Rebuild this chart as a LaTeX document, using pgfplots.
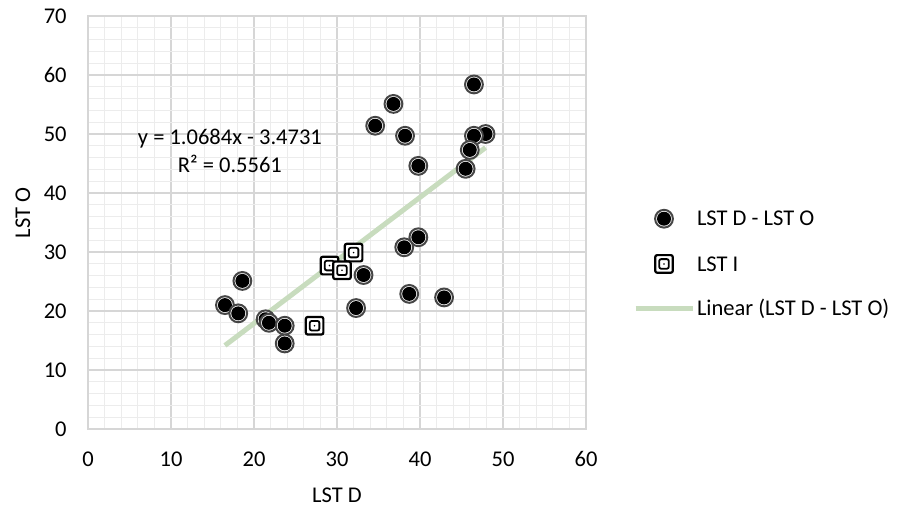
\documentclass[border=0pt]{standalone}
\usepackage{fontspec}
\setmainfont{Carlito}
\usepackage{pgfplots}
\pgfplotsset{compat=1.18}
\definecolor{gridmajor}{RGB}{214,214,214}
\definecolor{gridminor}{RGB}{236,236,236}
\definecolor{ringgray}{RGB}{70,70,70}
\definecolor{trendcol}{RGB}{200,220,190}
\pgfdeclareplotmark{ringdot}{%
  \pgfsetlinewidth{1bp}\pgfsetstrokecolor{ringgray}\pgfsetfillcolor{white}%
  \pgfpathcircle{\pgfpointorigin}{4.45bp}\pgfusepath{fill,stroke}%
  \pgfsetfillcolor{black}%
  \pgfpathcircle{\pgfpointorigin}{3.5bp}\pgfusepath{fill}%
}
\pgfdeclareplotmark{dblsquare}{%
  \pgfsetlinewidth{1.1bp}\pgfsetstrokecolor{black}\pgfsetfillcolor{white}%
  \pgfsetcornersarced{\pgfpoint{1bp}{1bp}}%
  \pgfpathrectanglecorners{\pgfpoint{-4.4bp}{-4.4bp}}{\pgfpoint{4.4bp}{4.4bp}}\pgfusepath{fill,stroke}%
  \pgfsetlinewidth{0.9bp}%
  \pgfpathrectanglecorners{\pgfpoint{-2.4bp}{-2.4bp}}{\pgfpoint{2.4bp}{2.4bp}}\pgfusepath{stroke}%
  \pgfsetcornersarced{\pgfpointorigin}%
  \pgfsetfillcolor{black}\pgfpathcircle{\pgfpointorigin}{0.45bp}\pgfusepath{fill}%
}
\newcommand{\chartfont}{\fontsize{11.3}{14}\selectfont}
\begin{document}
\begin{tikzpicture}
\useasboundingbox (0,0) rectangle (450bp,253.5bp);
\begin{axis}[
  at={(44bp,39bp)}, anchor=south west,
  scale only axis, width=249bp, height=206.5bp,
  xmin=0, xmax=60, ymin=0, ymax=70,
  xtick={0,10,...,60}, ytick={0,10,...,70},
  minor x tick num=4, minor y tick num=4,
  grid=both,
  major grid style={draw=gridmajor, line width=0.65bp},
  minor grid style={draw=gridminor, line width=0.5bp},
  axis line style={draw=gridmajor, line width=0.65bp},
  major tick length=0pt, minor tick length=0pt,
  tick style={draw=none},
  /pgf/number format/assume math mode=true,
  tick label style={font=\chartfont},
  xticklabel style={anchor=center, yshift=-15bp},
  yticklabel style={anchor=east, inner sep=0pt, xshift=-10.5bp},
  xlabel={LST D}, ylabel={LST O},
  label style={font=\chartfont},
  xlabel style={at={(axis description cs:0.5,-0.1598)}, anchor=center},
  ylabel style={at={(axis description cs:-0.1305,0.523)}, anchor=center},
  legend cell align=left,
  legend style={at={(axis description cs:1.0944,0.4019)}, anchor=west,
    draw=none, fill=none, inner sep=0pt, outer sep=0pt,
    row sep=12.7bp, column sep=0pt, font=\chartfont,
    nodes={inner xsep=1bp, inner ysep=0pt, text height=8bp, text depth=0.8bp}},
]
\addplot[trendcol, line width=2.5bp, forget plot] coordinates {(16.5,14.156) (47.9,47.703)};
\addplot[only marks, mark=ringdot,
  legend image code/.code={\path[draw=none,fill=none] (0bp,-4.5bp) rectangle (28.5bp,4.5bp);
    \begin{scope}[shift={(14.25bp,0bp)}]\pgfuseplotmark{ringdot}\end{scope}}]
  table {
x y
46.5 58.4
36.8 55.1
34.6 51.4
38.2 49.7
47.9 50.0
46.5 49.7
46.0 47.3
39.8 44.6
45.5 44.1
39.8 32.5
38.1 30.8
33.2 26.1
18.6 25.1
38.7 22.9
42.9 22.3
32.3 20.5
16.5 21.0
18.1 19.6
21.4 18.6
21.8 18.0
23.7 17.5
23.7 14.5
};
\addlegendentry{LST D - LST O}
\addplot[only marks, mark=dblsquare,
  legend image code/.code={\path[draw=none,fill=none] (0bp,-4.5bp) rectangle (28.5bp,4.5bp);
    \begin{scope}[shift={(14.25bp,0bp)}]\pgfuseplotmark{dblsquare}\end{scope}}]
  table {
x y
32.0 29.9
29.1 27.7
30.6 26.9
27.3 17.5
};
\addlegendentry{LST I}
\addlegendimage{legend image code/.code={\path[draw=none,fill=none] (0bp,-4.5bp) rectangle (28.5bp,4.5bp);
    \draw[trendcol, line width=2.5bp] (0bp,0bp) -- (28.5bp,0bp);}}
\addlegendentry{Linear (LST D - LST O)}
\node[align=center, font=\chartfont, inner sep=0pt] at (axis cs:17.1,47.1) {y = 1.0684x - 3.4731\\R² = 0.5561};
\end{axis}
\end{tikzpicture}
\end{document}
